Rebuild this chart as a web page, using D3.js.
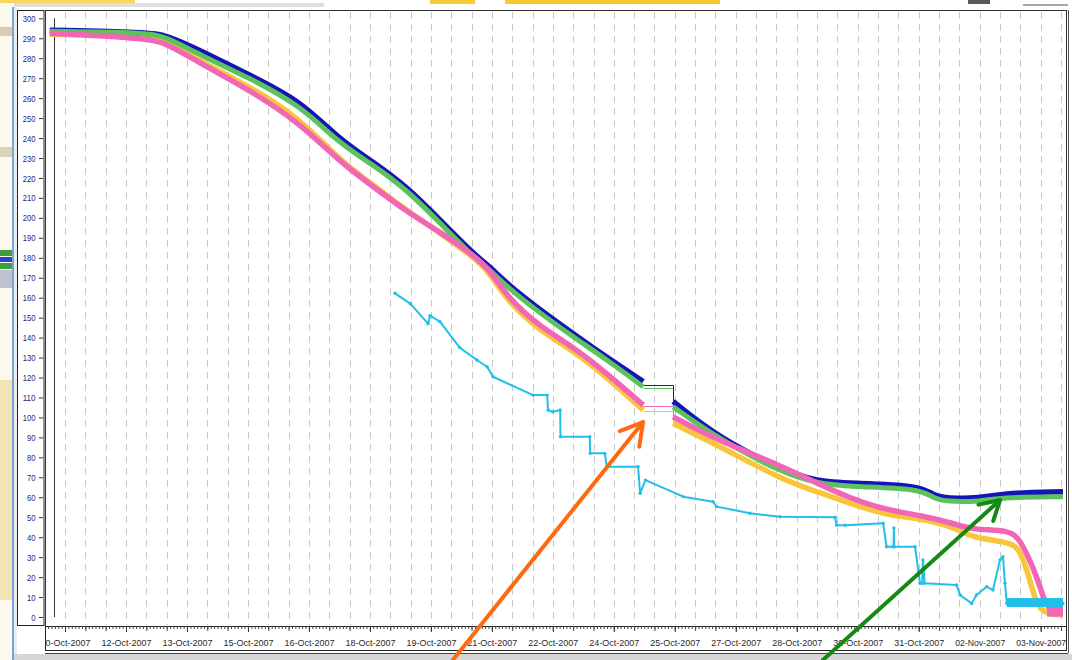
<!DOCTYPE html>
<html>
<head>
<meta charset="utf-8">
<script src="https://cdn.jsdelivr.net/npm/d3@7"></script>
<style>
  body { margin: 0; background: #fff; }
  svg { display: block; font-family: "Liberation Sans", Arial, sans-serif; }
</style>
</head>
<body>
<div id="canvas"></div>
<script>
"use strict";

// ---- data ----
// null row = logging gap, bridged by a thin line
let blueData = [
  ["2007-10-10 03:00", 294], ["2007-10-12 12:30", 293], ["2007-10-13 00:00", 291.5],
  ["2007-10-13 19:40", 284], ["2007-10-15 01:10", 271.5], ["2007-10-16 06:40", 259],
  ["2007-10-17 06:20", 239], ["2007-10-18 02:00", 228], ["2007-10-18 21:50", 215.6],
  ["2007-10-19 17:20", 199], ["2007-10-20 13:00", 182], ["2007-10-20 22:50", 175.5],
  ["2007-10-21 08:50", 167], ["2007-10-22 04:20", 154], ["2007-10-23 00:00", 142],
  ["2007-10-23 20:00", 130], ["2007-10-24 17:20", 118],
  ["2007-10-25 00:00", null],
  ["2007-10-25 11:00", 108], ["2007-10-26 13:00", 90.3], ["2007-10-28 03:50", 73.6],
  ["2007-10-29 00:00", 67.8], ["2007-10-29 19:30", 67], ["2007-10-31 12:50", 66],
  ["2007-10-31 20:30", 61], ["2007-11-01 04:50", 59.4], ["2007-11-02 00:15", 59.4],
  ["2007-11-02 12:00", 62], ["2007-11-04 01:10", 62.8]
];
let greenData = [
  ["2007-10-10 03:00", 293.5], ["2007-10-12 12:30", 293], ["2007-10-13 00:00", 290.5],
  ["2007-10-13 19:40", 281.6], ["2007-10-15 01:10", 270], ["2007-10-16 06:40", 256.5],
  ["2007-10-17 06:20", 237], ["2007-10-18 02:00", 226.5], ["2007-10-18 21:50", 214],
  ["2007-10-19 17:20", 197.5], ["2007-10-20 13:00", 180.5], ["2007-10-20 22:50", 174],
  ["2007-10-21 08:50", 165.5], ["2007-10-22 04:20", 152.3], ["2007-10-23 00:00", 140.4],
  ["2007-10-23 20:00", 128.8], ["2007-10-24 17:20", 115.4],
  ["2007-10-25 00:00", null],
  ["2007-10-25 11:00", 105.3], ["2007-10-26 13:00", 89.7], ["2007-10-28 03:50", 72],
  ["2007-10-29 00:00", 67], ["2007-10-29 19:30", 65.3], ["2007-10-31 12:50", 64.5],
  ["2007-10-31 20:30", 59.5], ["2007-11-01 04:50", 57.8], ["2007-11-02 00:15", 57.8],
  ["2007-11-02 12:00", 60], ["2007-11-04 01:10", 60.3]
];
let pinkData = [
  ["2007-10-10 03:00", 292.5], ["2007-10-12 12:30", 290], ["2007-10-13 00:00", 287.5],
  ["2007-10-13 19:40", 277.5], ["2007-10-15 01:10", 264], ["2007-10-16 06:40", 247.5],
  ["2007-10-17 06:20", 228], ["2007-10-18 02:00", 215.6], ["2007-10-18 21:50", 203],
  ["2007-10-19 17:20", 193], ["2007-10-20 13:00", 181.4], ["2007-10-20 22:50", 174],
  ["2007-10-21 08:50", 160.5], ["2007-10-22 04:20", 145.4], ["2007-10-23 00:00", 135.4],
  ["2007-10-23 20:00", 122], ["2007-10-24 17:20", 106.2],
  ["2007-10-25 00:00", null],
  ["2007-10-25 11:00", 100.3], ["2007-10-26 13:00", 88.7], ["2007-10-28 03:50", 75.3],
  ["2007-10-29 00:00", 67], ["2007-10-29 19:30", 59.5], ["2007-10-30 16:50", 53.6],
  ["2007-10-31 12:50", 51], ["2007-11-01 08:10", 47], ["2007-11-01 20:10", 43.6],
  ["2007-11-02 18:00", 43.6], ["2007-11-03 00:00", 38.6], ["2007-11-03 07:30", 25],
  ["2007-11-03 11:40", 15.2], ["2007-11-03 15:50", 3], ["2007-11-04 01:10", 2.5]
];
let yellowData = [
  ["2007-10-10 03:00", 292], ["2007-10-12 12:30", 291], ["2007-10-13 00:00", 288.5],
  ["2007-10-13 19:40", 278.5], ["2007-10-15 01:10", 265.7], ["2007-10-16 06:40", 250],
  ["2007-10-17 06:20", 228.5], ["2007-10-18 02:00", 216.5], ["2007-10-18 21:50", 203.5],
  ["2007-10-19 17:20", 192.5], ["2007-10-20 13:00", 180.5], ["2007-10-20 22:50", 172.5],
  ["2007-10-21 08:50", 158.5], ["2007-10-22 04:20", 143.5], ["2007-10-23 00:00", 133.5],
  ["2007-10-23 20:00", 120], ["2007-10-24 17:20", 103.7],
  ["2007-10-25 00:00", null],
  ["2007-10-25 11:00", 97], ["2007-10-26 13:00", 86.2], ["2007-10-28 03:50", 68.6],
  ["2007-10-29 00:00", 62.8], ["2007-10-29 19:30", 57], ["2007-10-30 16:50", 51],
  ["2007-10-31 12:50", 49.4], ["2007-11-01 08:10", 45.3], ["2007-11-01 20:10", 39.4],
  ["2007-11-02 18:00", 37.7], ["2007-11-03 00:00", 33.6], ["2007-11-03 05:50", 18.5],
  ["2007-11-03 10:30", 1.5], ["2007-11-04 01:10", 1]
];
let cyanData = [
  ["2007-10-18 14:50", 162.2], ["2007-10-18 23:50", 157], ["2007-10-19 10:20", 147],
  ["2007-10-19 11:30", 151], ["2007-10-19 17:20", 148], ["2007-10-20 05:00", 135],
  ["2007-10-20 15:10", 128.8], ["2007-10-20 21:10", 125.4], ["2007-10-21 00:40", 120.4],
  ["2007-10-22 00:15", 111.2], ["2007-10-22 08:40", 111.2], ["2007-10-22 09:10", 103.7],
  ["2007-10-22 12:00", 102.8], ["2007-10-22 16:20", 103.7], ["2007-10-22 16:30", 90.3],
  ["2007-10-23 09:50", 90.3], ["2007-10-23 10:00", 82], ["2007-10-23 18:40", 82],
  ["2007-10-23 19:50", 75.3], ["2007-10-24 14:20", 75.3], ["2007-10-24 15:30", 62],
  ["2007-10-24 18:40", 68.6], ["2007-10-25 17:00", 60.3], ["2007-10-26 10:30", 57.8],
  ["2007-10-26 12:45", 55.3], ["2007-10-27 08:25", 52], ["2007-10-28 02:10", 50.2],
  ["2007-10-29 10:35", 50], ["2007-10-29 11:35", 46], ["2007-10-29 16:30", 46],
  ["2007-10-30 15:00", 47], ["2007-10-30 17:00", 35.2], ["2007-10-30 21:10", 35.2],
  ["2007-10-30 21:20", 44.6], ["2007-10-30 21:30", 35.2], ["2007-10-31 09:50", 35.2],
  ["2007-10-31 12:45", 16.9], ["2007-10-31 14:00", 16.9], ["2007-10-31 14:30", 28.6],
  ["2007-10-31 15:30", 16.9], ["2007-11-01 10:20", 16], ["2007-11-01 12:25", 11],
  ["2007-11-01 19:15", 6.8], ["2007-11-01 22:05", 11], ["2007-11-02 04:05", 15.2],
  ["2007-11-02 07:50", 13.5], ["2007-11-02 12:00", 28.6], ["2007-11-02 13:45", 30.2],
  ["2007-11-02 14:55", 16.9], ["2007-11-02 16:00", 6.8], ["2007-11-04 01:10", 6.8]
];

// noisy tails at the very end (min / max envelope)
let pinkTailTimes = ["2007-11-03 15:50", "2007-11-04 01:10"];
let pinkTailLow = [0.2, 0.2];
let pinkTailHigh = [5.2, 5.2];
let cyanTailTimes = ["2007-11-02 16:00", "2007-11-04 01:10"];
let cyanTailLow = [5, 5];
let cyanTailHigh = [9.5, 9.5];

// level of the thin line drawn across the gap
let gapLevels = { blue: 116.5, green: 114.6, pink: 105.7, yellow: 103.2 };

let cursorTime = "2007-10-10 05:30";

let yTicks = d3.range(0, 301, 10);
let xTickTimes = [
  "2007-10-10 12:00", "2007-10-12 00:00", "2007-10-13 12:00", "2007-10-15 00:00",
  "2007-10-16 12:00", "2007-10-18 00:00", "2007-10-19 12:00", "2007-10-21 00:00",
  "2007-10-22 12:00", "2007-10-24 00:00", "2007-10-25 12:00", "2007-10-27 00:00",
  "2007-10-28 12:00", "2007-10-30 00:00", "2007-10-31 12:00", "2007-11-02 00:00",
  "2007-11-03 12:00"
];
let xTickLabels = [
  "10-Oct-2007", "12-Oct-2007", "13-Oct-2007", "15-Oct-2007", "16-Oct-2007",
  "18-Oct-2007", "19-Oct-2007", "21-Oct-2007", "22-Oct-2007", "24-Oct-2007",
  "25-Oct-2007", "27-Oct-2007", "28-Oct-2007", "30-Oct-2007", "31-Oct-2007",
  "02-Nov-2007", "03-Nov-2007"
];

// annotation arrows (tail, tip) in data units
let orangeArrow = [["2007-10-20 01:00", -21.5], ["2007-10-24 17:15", 97.7]];
let greenArrow = [["2007-10-29 03:30", -21.5], ["2007-11-02 12:00", 58.6]];

// ---- setup ----
let svgWidth = 1072, svgHeight = 660;
let plot = { left: 45, top: 10, right: 1066, bottom: 626 };
let parseTime = d3.timeParse("%Y-%m-%d %H:%M");

let svg = d3.select("#canvas").append("svg")
  .attr("width", svgWidth).attr("height", svgHeight);

let xScale = d3.scaleTime()
  .domain([parseTime("2007-10-10 00:00"), parseTime("2007-11-04 00:00")])
  .range([44.7, 1061]);
let yScale = d3.scaleLinear().domain([0, 300]).range([617, 18.3]);

// ---- window chrome / slide behind the screenshot ----
svg.append("rect").attr("x", 0).attr("y", 0).attr("width", 12).attr("height", 660).attr("fill", "#fbf8ee");
svg.append("rect").attr("x", 0).attr("y", 27).attr("width", 12).attr("height", 9).attr("fill", "#d8ccb2");
svg.append("rect").attr("x", 0).attr("y", 147).attr("width", 12).attr("height", 10).attr("fill", "#dcd2ba");
svg.append("rect").attr("x", 0).attr("y", 250).attr("width", 12).attr("height", 6).attr("fill", "#3f9c3f");
svg.append("rect").attr("x", 0).attr("y", 257).attr("width", 12).attr("height", 5).attr("fill", "#2846c8");
svg.append("rect").attr("x", 0).attr("y", 263).attr("width", 12).attr("height", 6).attr("fill", "#3f9c3f");
svg.append("rect").attr("x", 0).attr("y", 270).attr("width", 12).attr("height", 18).attr("fill", "#bfc3cf");
svg.append("rect").attr("x", 0).attr("y", 380).attr("width", 12).attr("height", 220).attr("fill", "#f4e4b4");
svg.append("rect").attr("x", 0).attr("y", 0).attr("width", 135).attr("height", 3).attr("fill", "#f7d760");
svg.append("rect").attr("x", 14).attr("y", 3).attr("width", 310).attr("height", 4).attr("fill", "#dedede");
svg.append("rect").attr("x", 430).attr("y", 0).attr("width", 45).attr("height", 4).attr("fill", "#f6cb36");
svg.append("rect").attr("x", 505).attr("y", 0).attr("width", 215).attr("height", 4).attr("fill", "#f6c92f");
svg.append("rect").attr("x", 968).attr("y", 0).attr("width", 22).attr("height", 4).attr("fill", "#5a5a5a");
svg.append("rect").attr("x", 1023).attr("y", 4).attr("width", 45).attr("height", 2).attr("fill", "#a5a5a5");
svg.append("rect").attr("x", 12).attr("y", 7).attr("width", 2).attr("height", 653).attr("fill", "#7aa2d8");
svg.append("rect").attr("x", 14).attr("y", 7).attr("width", 3).attr("height", 653).attr("fill", "#ececec");
svg.append("rect").attr("x", 14).attr("y", 654).attr("width", 1058).attr("height", 6).attr("fill", "#d6d6d6");

// ---- frames ----
svg.append("rect")
  .attr("x", 17.5).attr("y", plot.top + 0.5).attr("width", 26.5).attr("height", 615)
  .attr("fill", "#fff").attr("stroke", "#222");
svg.append("rect")
  .attr("x", plot.left + 0.5).attr("y", plot.top + 0.5)
  .attr("width", plot.right - plot.left).attr("height", plot.bottom - plot.top)
  .attr("fill", "#fff").attr("stroke", "#333");
svg.append("line")
  .attr("x1", plot.right + 2.5).attr("x2", plot.right + 2.5)
  .attr("y1", plot.top).attr("y2", 653).attr("stroke", "#555");
svg.append("rect")
  .attr("x", plot.left + 0.5).attr("y", plot.bottom + 0.5)
  .attr("width", plot.right - plot.left).attr("height", 24)
  .attr("fill", "#fff").attr("stroke", "#222");
svg.append("line")
  .attr("x1", plot.left).attr("x2", plot.right + 2)
  .attr("y1", 653.5).attr("y2", 653.5).attr("stroke", "#444");

// clip paths
let defs = svg.append("defs");
defs.append("clipPath").attr("id", "plotClip").append("rect")
  .attr("x", plot.left + 1).attr("y", plot.top + 1)
  .attr("width", plot.right - plot.left - 1).attr("height", plot.bottom - plot.top - 1);
defs.append("clipPath").attr("id", "axisClip").append("rect")
  .attr("x", plot.left + 1).attr("y", plot.bottom)
  .attr("width", plot.right - plot.left - 1).attr("height", 26);

// ---- vertical dashed grid every 12 h ----
let gridTimes = d3.timeHour.every(12).range(parseTime("2007-10-10 12:00"), parseTime("2007-11-04 00:01"));
svg.append("g").selectAll("line")
  .data(gridTimes).enter().append("line")
  .attr("x1", function(d){ return Math.round(xScale(d)) + 0.5; })
  .attr("x2", function(d){ return Math.round(xScale(d)) + 0.5; })
  .attr("y1", plot.top + 2).attr("y2", plot.bottom - 1)
  .attr("stroke", "#c9c9c9").attr("stroke-dasharray", "7,5");

// cursor line
svg.append("line")
  .attr("x1", Math.round(xScale(parseTime(cursorTime))) + 0.5)
  .attr("x2", Math.round(xScale(parseTime(cursorTime))) + 0.5)
  .attr("y1", yScale(300)).attr("y2", yScale(0))
  .attr("stroke", "#333");

// ---- y axis ----
let yAxis = svg.append("g")
  .attr("transform", "translate(43,0)")
  .call(d3.axisLeft(yScale).tickValues(yTicks).tickSize(4).tickPadding(3.5));
yAxis.select(".domain").remove();
yAxis.selectAll("line").attr("stroke", "#333");
yAxis.selectAll("text")
  .attr("fill", "#26267c")
  .style("font-size", "9.5px")
  .attr("textLength", function(d){ return String(d).length * 4.25; })
  .attr("lengthAdjust", "spacingAndGlyphs");

// ---- x axis ----
let xAxisG = svg.append("g").attr("clip-path", "url(#axisClip)");
let minorAxis = xAxisG.append("g")
  .attr("transform", "translate(0," + plot.bottom + ")")
  .call(d3.axisBottom(xScale).ticks(d3.timeHour.every(2)).tickSize(3).tickFormat(""));
minorAxis.select(".domain").remove();
minorAxis.selectAll("line").attr("stroke", "#444");
let midAxis = xAxisG.append("g")
  .attr("transform", "translate(0," + plot.bottom + ")")
  .call(d3.axisBottom(xScale).ticks(d3.timeHour.every(12)).tickSize(5).tickFormat(""));
midAxis.select(".domain").remove();
midAxis.selectAll("line").attr("stroke", "#444");
let xAxis = xAxisG.append("g")
  .attr("transform", "translate(0," + plot.bottom + ")")
  .call(d3.axisBottom(xScale)
    .tickValues(xTickTimes.map(parseTime))
    .tickSize(6).tickPadding(7.5)
    .tickFormat(function(d, i){ return xTickLabels[i]; }));
xAxis.select(".domain").remove();
xAxis.selectAll("line").attr("stroke", "#333");
xAxis.selectAll("text")
  .attr("fill", "#2a2a2a")
  .style("font-size", "9.5px")
  .attr("textLength", 50)
  .attr("lengthAdjust", "spacingAndGlyphs");

// ---- series ----
let chartArea = svg.append("g").attr("clip-path", "url(#plotClip)");

let smoothLine = d3.line()
  .defined(function(d){ return d[1] !== null; })
  .curve(d3.curveBasis)
  .x(function(d){ return xScale(parseTime(d[0])); })
  .y(function(d){ return yScale(d[1]); });
let stepLine = d3.line()
  .x(function(d){ return xScale(parseTime(d[0])); })
  .y(function(d){ return yScale(d[1]); });

function drawGap(data, level, color) {
  let idx = data.findIndex(function(d){ return d[1] === null; });
  let before = data[idx - 1], after = data[idx + 1];
  let pts = [[before[0], level], [after[0], level], [after[0], after[1]]];
  chartArea.append("path")
    .attr("d", d3.line()
      .x(function(d){ return Math.round(xScale(parseTime(d[0]))) + 0.5; })
      .y(function(d){ return Math.round(yScale(d[1])) + 0.5; })(pts))
    .attr("fill", "none").attr("stroke", color).attr("stroke-width", 1);
}

function drawSeries(data, color, width, lineGen) {
  chartArea.append("path")
    .datum(data)
    .attr("d", lineGen)
    .attr("fill", "none")
    .attr("stroke", color)
    .attr("stroke-width", width)
    .attr("stroke-linejoin", "round")
    .attr("stroke-linecap", "butt");
}

function drawTail(times, low, high, color) {
  let rows = times.map(function(t, i){ return [t, low[i], high[i]]; });
  chartArea.append("path")
    .datum(rows)
    .attr("d", d3.area()
      .x(function(d){ return xScale(parseTime(d[0])); })
      .y0(function(d){ return yScale(d[1]); })
      .y1(function(d){ return yScale(d[2]); }))
    .attr("fill", color);
}

let colors = { blue: "#1414b8", green: "#5cc25c", pink: "#f266b6", yellow: "#f9c53a", cyan: "#22bfe8" };

drawGap(yellowData, gapLevels.yellow, colors.yellow);
drawGap(pinkData, gapLevels.pink, colors.pink);
drawGap(greenData, gapLevels.green, colors.green);
drawGap(blueData, gapLevels.blue, colors.blue);

drawSeries(yellowData, colors.yellow, 5.5, smoothLine);
drawSeries(blueData, colors.blue, 5.5, smoothLine);
drawSeries(greenData, colors.green, 5, smoothLine);
drawSeries(pinkData, colors.pink, 5.5, smoothLine);
drawTail(pinkTailTimes, pinkTailLow, pinkTailHigh, colors.pink);

drawSeries(cyanData, colors.cyan, 2, stepLine);
drawTail(cyanTailTimes, cyanTailLow, cyanTailHigh, colors.cyan);
chartArea.append("g").selectAll("circle")
  .data(cyanData).enter().append("circle")
  .attr("cx", function(d){ return xScale(parseTime(d[0])); })
  .attr("cy", function(d){ return yScale(d[1]); })
  .attr("r", 1.7)
  .attr("fill", colors.cyan);

// ---- annotation arrows ----
function drawArrow(pts, color, headLen) {
  let x0 = xScale(parseTime(pts[0][0])), y0 = yScale(pts[0][1]);
  let x1 = xScale(parseTime(pts[1][0])), y1 = yScale(pts[1][1]);
  let ang = Math.atan2(y0 - y1, x0 - x1); // pointing back along the shaft
  let spread = 30 * Math.PI / 180;
  let g = svg.append("g")
    .attr("stroke", color).attr("stroke-width", 4)
    .attr("stroke-linecap", "round").attr("fill", "none");
  g.append("line").attr("x1", x0).attr("y1", y0).attr("x2", x1).attr("y2", y1);
  g.append("path")
    .attr("stroke-linejoin", "round")
    .attr("d", "M" + (x1 + headLen * Math.cos(ang - spread)) + "," + (y1 + headLen * Math.sin(ang - spread)) +
      "L" + x1 + "," + y1 +
      "L" + (x1 + headLen * Math.cos(ang + spread)) + "," + (y1 + headLen * Math.sin(ang + spread)));
}
drawArrow(orangeArrow, "#ff6a10", 25);
drawArrow(greenArrow, "#148a14", 22);
</script>
</body>
</html>
